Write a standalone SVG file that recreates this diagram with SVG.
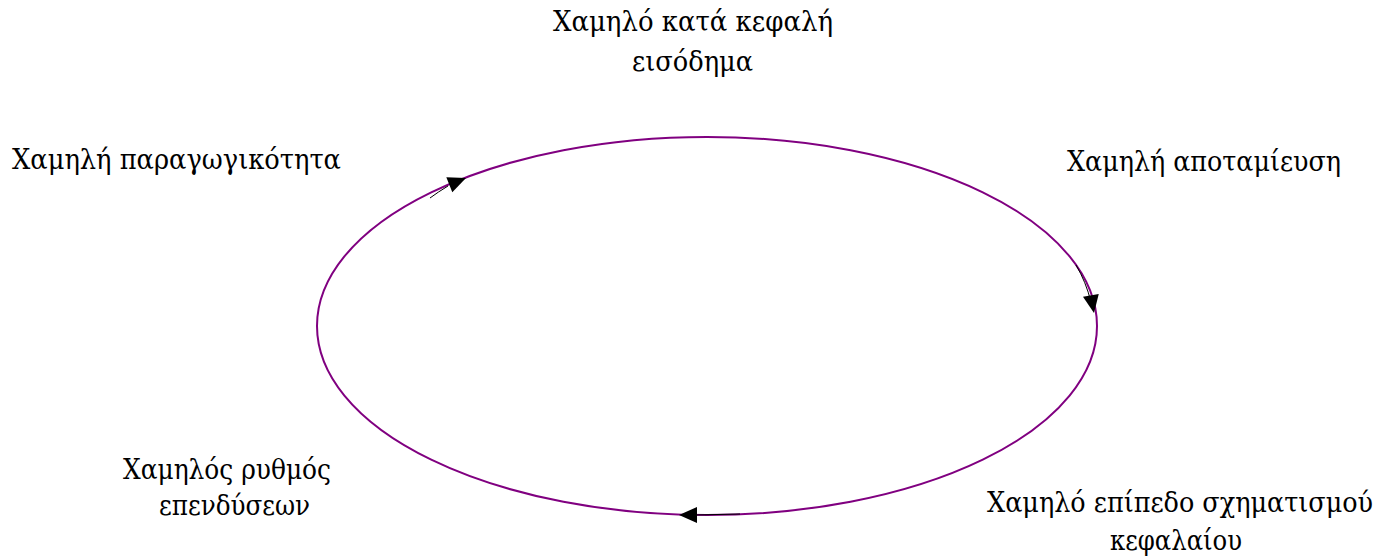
<svg xmlns="http://www.w3.org/2000/svg" xmlns:xlink="http://www.w3.org/1999/xlink" width="1378" height="557" viewBox="0 0 1378 557">
<style>
text{font-family:"DejaVu Serif","Liberation Serif",serif;font-stretch:condensed;font-size:27px;fill:#000}
.cyc{fill:none;stroke:#800080;stroke-width:2}
.thin{fill:none;stroke:#000;stroke-width:1}
</style>
<defs>
<path id="ah" d="M0,0 L-18,-8 L-18,8 Z" fill="#000"/>
</defs>
<rect width="1378" height="557" fill="#fff"/>
<g id="connectors">
<ellipse class="cyc" cx="707" cy="326" rx="390" ry="189"/>
<path class="thin" d="M1076,265 Q1086,282 1091,302"/>
<path class="thin" d="M430,198 Q438,192 448,186"/>
<path class="thin" d="M695,515 L740,514"/>
<use xlink:href="#ah" transform="translate(466,178) rotate(-22)"/>
<use xlink:href="#ah" transform="translate(1094,313) rotate(80)"/>
<use xlink:href="#ah" transform="translate(679,515) rotate(180)"/>
</g>
<g id="n1"><text x="553" y="31" textLength="280" lengthAdjust="spacingAndGlyphs">Χαμηλό κατά κεφαλή</text><text x="632" y="71" textLength="121" lengthAdjust="spacingAndGlyphs">εισόδημα</text></g>
<g id="n2"><text x="1067" y="171" textLength="274" lengthAdjust="spacingAndGlyphs">Χαμηλή αποταμίευση</text></g>
<g id="n3"><text x="987" y="512" textLength="386" lengthAdjust="spacingAndGlyphs">Χαμηλό επίπεδο σχηματισμού</text><text x="1110" y="550" textLength="132" lengthAdjust="spacingAndGlyphs">κεφαλαίου</text></g>
<g id="n4"><text x="123" y="479" textLength="208" lengthAdjust="spacingAndGlyphs">Χαμηλός ρυθμός</text><text x="159" y="515" textLength="151" lengthAdjust="spacingAndGlyphs">επενδύσεων</text></g>
<g id="n5"><text x="12" y="169" textLength="329" lengthAdjust="spacingAndGlyphs">Χαμηλή παραγωγικότητα</text></g>
</svg>
